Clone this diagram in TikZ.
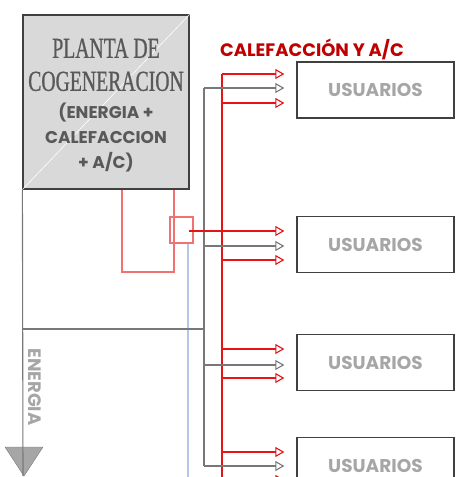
\documentclass[tikz,border=0pt]{standalone}
\usepackage{fontspec}
\setmainfont{Liberation Serif}
\setsansfont{Poppins}
\newfontfamily\condserif[FakeStretch=0.68, FakeBold=0.8]{Liberation Serif}
\usepackage{tikz}
\usetikzlibrary{positioning,arrows.meta}
\definecolor{heatcolor}{RGB}{192,0,0}
\definecolor{pipered}{RGB}{230,20,20}
\definecolor{pipegray}{RGB}{120,120,120}
\definecolor{pipeblue}{RGB}{180,199,231}
\definecolor{plantfill}{RGB}{217,217,217}
\definecolor{darktext}{RGB}{89,89,89}
\definecolor{lighttext}{RGB}{166,166,166}
\tikzset{
  plantbox/.style={draw=black!75, fill=plantfill, line width=1.2pt, minimum width=166pt, minimum height=174pt, inner sep=0pt},
  userbox/.style={draw=black!75, line width=1.3pt, minimum width=157pt, minimum height=56pt, inner sep=0pt, text=lighttext, font=\sffamily\bfseries\fontsize{18.5}{20}\selectfont},
  hotpipe/.style={draw=pipered, line width=1.1pt},
  supply/.style={draw=pipered!60, line width=1.6pt},
  energypipe/.style={draw=pipegray, line width=1.1pt},
  hotarrow/.style={hotpipe, -{Triangle[open, length=9pt, width=10pt]}, shorten >=12pt},
  energyarrow/.style={energypipe, -{Triangle[open, length=9pt, width=10pt]}, shorten >=12pt}
}
\begin{document}
\begin{tikzpicture}[x=1pt, y=-1pt]
  \useasboundingbox (0,0) rectangle (473,477);

  % Plant
  \node[plantbox] (plant) at (106,102) {};
  \draw[white, line width=0.6pt] (plant.south west) -- (plant.north east);
  \node[anchor=north, inner sep=0pt, align=center, text=darktext, font=\condserif\fontsize{29}{33}\selectfont] (plantname) at (106,38.5) {PLANTA DE\\COGENERACION};
  \node[anchor=north, inner sep=0pt, align=center, text=darktext, font=\sffamily\bfseries\fontsize{17}{25}\selectfont] (plantsub) at (106,103) {(ENERGIA +\\CALEFACCION\\+ A/C)};

  % Labels
  \node[text=heatcolor, font=\sffamily\bfseries\fontsize{18}{20}\selectfont] (heatlabel) at (312,49) {CALEFACCIÓN Y A/C};
  \node[rotate=-90, text=lighttext, font=\sffamily\bfseries\fontsize{18}{20}\selectfont] (energylabel) at (35,387) {ENERGIA};

  % Users
  \node[userbox] (users1) at (375.5,90) {USUARIOS};
  \node[userbox] (users2) at (375.5,244.5) {USUARIOS};
  \node[userbox] (users3) at (375.5,362.5) {USUARIOS};
  \node[userbox] (users4) at (375.5,465.5) {USUARIOS};

  % Heat exchanger
  \node[draw=pipered!60, line width=1.6pt, minimum width=23pt, minimum height=26pt, inner sep=0pt] (hx) at (181.5,230) {};

  % Supply loop
  \draw[supply] (122,0 |- plant.south) -- (122,272) -- (174,272) -- (174,0 |- plant.south);
  \draw[draw=pipeblue, line width=1.3pt] (188,0 |- hx.south) -- (188,480);

  % Buses
  \coordinate (hottop) at (222,74);
  \coordinate (energytop) at (204,88);
  \draw[hotpipe] (hottop) -- (222,480);
  \draw[energypipe] (energytop) -- (204,466);
  \draw[energypipe] (23,329) -- (204,329);

  % Energy line
  \draw[draw=pipegray, fill=lighttext] (5,447) -- (43,447) -- (24,476) -- cycle;
  \draw[energypipe] (plant.south west) -- (23,476);

  % Arrows
  \foreach \u/\sx/\ra/\ga/\rb in {users1/222/74/88/103, users2/189/231/246/260, users3/222/349/365/378, users4/222/452/466/480}{
    \draw[hotarrow] (\sx,\ra) -- (\u.west |- 0,\ra);
    \draw[energyarrow] (204,\ga) -- (\u.west |- 0,\ga);
    \draw[hotarrow] (222,\rb) -- (\u.west |- 0,\rb);
  }

\end{tikzpicture}
\end{document}
